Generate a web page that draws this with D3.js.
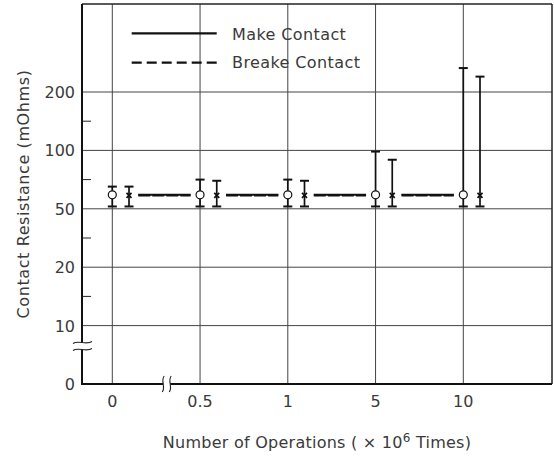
<!DOCTYPE html>
<html><head><meta charset="utf-8">
<script src="https://cdn.jsdelivr.net/npm/d3@7"></script>
<style>body{margin:0;background:#fff}svg{display:block}text{font-family:"DejaVu Sans",sans-serif;fill:#3a3a3a}</style>
</head><body>
<svg id="c" width="554" height="457"></svg>
<script>
const categories = ["0","0.5","1","5","10"];
const makeMean = [62,62,62,62,62];
const makeMin  = [52,52,52,52,52];
const makeMax  = [69,75,75,99,323];
const breakMean = [61.5,61.5,61.5,61.5,61.5];
const breakMin  = [52,52,52,52,52];
const breakMax  = [69,74,74,92,279];
const yTicks = [0,10,20,50,100,200];
const yMinor = [15,35,75,150];
const legendLabels = ["Make Contact","Breake Contact"];

const svg = d3.select("#c");
const L=82, R=552, T=4, B=384;
const FS=16;
const x = d3.scalePoint().domain(categories).range([112.3,463.3]);
const y = d3.scaleLinear().domain([0,10,20,50,100,200,500]).range([384,325.6,267.2,208.8,150.4,92,33.6]);

// grid
const g = svg.append("g");
g.selectAll(".vg").data(categories).join("line")
  .attr("x1",d=>x(d)).attr("x2",d=>x(d)).attr("y1",T).attr("y2",B)
  .attr("stroke","#444").attr("stroke-width",1);
g.selectAll(".hg").data(yTicks.filter(d=>d>0)).join("line")
  .attr("x1",L).attr("x2",R).attr("y1",d=>y(d)).attr("y2",d=>y(d))
  .attr("stroke","#444").attr("stroke-width",1);
// frame
g.append("line").attr("x1",L).attr("x2",R).attr("y1",T).attr("y2",T).attr("stroke","#222").attr("stroke-width",1.5);
g.append("line").attr("x1",R).attr("x2",R).attr("y1",T).attr("y2",B).attr("stroke","#222").attr("stroke-width",1.5);
// minor ticks
g.selectAll(".mt").data(yMinor).join("line")
  .attr("x1",L).attr("x2",L+9).attr("y1",d=>y(d)).attr("y2",d=>y(d))
  .attr("stroke","#222").attr("stroke-width",1);
// axes
g.append("line").attr("x1",L).attr("x2",L).attr("y1",T).attr("y2",B+1).attr("stroke","#111").attr("stroke-width",2);
g.append("line").attr("x1",L-1).attr("x2",R).attr("y1",B).attr("y2",B).attr("stroke","#111").attr("stroke-width",2);

// y axis break
const yb = y(6.5);
g.append("rect").attr("x",L-3).attr("y",yb-3.5).attr("width",6).attr("height",7).attr("fill","#fff");
[-3.5,3.5].forEach(o=>{
  g.append("path").attr("d",`M${L-9},${yb+o+1} C${L-4},${yb+o-3} ${L+4},${yb+o+3} ${L+10},${yb+o-1}`)
   .attr("fill","none").attr("stroke","#222").attr("stroke-width",1.1);
});
// x axis break
const xb = x("0") + (x("0.5")-x("0"))*0.62;
g.append("rect").attr("x",xb-3.5).attr("y",B-3).attr("width",7).attr("height",6).attr("fill","#fff");
[-3.5,3.5].forEach(o=>{
  g.append("path").attr("d",`M${xb+o+1},${B-8} C${xb+o-3},${B-3} ${xb+o+3},${B+3} ${xb+o-1},${B+8}`)
   .attr("fill","none").attr("stroke","#222").attr("stroke-width",1.1);
});

// tick labels
svg.selectAll(".yl").data(yTicks).join("text")
  .attr("x",75).attr("y",d=>y(d)+6).attr("text-anchor","end").attr("font-size",FS).text(d=>d);
svg.selectAll(".xl").data(categories).join("text")
  .attr("x",d=>x(d)).attr("y",406.5).attr("text-anchor","middle").attr("font-size",FS).text(d=>d);

// axis titles
svg.append("text").attr("transform","translate(29,194) rotate(-90)").attr("text-anchor","middle")
  .attr("font-size",FS).attr("letter-spacing",0.6).text("Contact Resistance (mOhms)");
const xt = svg.append("text").attr("x",317).attr("y",447.5).attr("text-anchor","middle").attr("font-size",FS).attr("letter-spacing",0.25);
xt.append("tspan").text("Number of Operations ( \u00d7 10");
xt.append("tspan").attr("font-size",12).attr("dy",-6).text("6");
xt.append("tspan").attr("dy",6).text(" Times)");

// connecting segments
const segs = categories.slice(0,-1).map((c,i)=>({x1:x(c)+26,x2:x(categories[i+1])-9.5,m:makeMean[i],b:breakMean[i]}));
svg.selectAll(".sm").data(segs).join("line")
  .attr("x1",d=>d.x1).attr("x2",d=>d.x2).attr("y1",d=>y(d.m)).attr("y2",d=>y(d.m))
  .attr("stroke","#111").attr("stroke-width",2);
svg.selectAll(".sb").data(segs).join("line")
  .attr("x1",d=>d.x1).attr("x2",d=>d.x2).attr("y1",d=>y(d.b)).attr("y2",d=>y(d.b))
  .attr("stroke","#111").attr("stroke-width",2.5).attr("stroke-dasharray","12,2");

// error bars
function errbars(mean,min,max,off,cls){
  const d = categories.map((c,i)=>({cx:x(c)+off,mean:mean[i],min:min[i],max:max[i]}));
  const eg = svg.append("g");
  eg.selectAll("."+cls+"v").data(d).join("line")
    .attr("x1",d=>d.cx).attr("x2",d=>d.cx).attr("y1",d=>y(d.min)).attr("y2",d=>y(d.max))
    .attr("stroke","#111").attr("stroke-width",1.7);
  ["min","max"].forEach(k=>{
    eg.selectAll("."+cls+k).data(d).join("line")
      .attr("x1",d=>d.cx-4.5).attr("x2",d=>d.cx+4.5).attr("y1",d=>y(d[k])).attr("y2",d=>y(d[k]))
      .attr("stroke","#111").attr("stroke-width",2);
  });
  return {eg,d};
}
const mk = errbars(makeMean,makeMin,makeMax,0,"m");
mk.eg.selectAll("circle").data(mk.d).join("circle")
  .attr("cx",d=>d.cx).attr("cy",d=>y(d.mean)).attr("r",4)
  .attr("fill","#fff").attr("stroke","#111").attr("stroke-width",1.2);
const bk = errbars(breakMean,breakMin,breakMax,16.7,"b");
bk.eg.selectAll("path").data(bk.d).join("path")
  .attr("d",d=>{const cx=d.cx, cy=y(d.mean); return `M${cx-2.5},${cy-2.5}L${cx+2.5},${cy+2.5}M${cx-2.5},${cy+2.5}L${cx+2.5},${cy-2.5}`;})
  .attr("stroke","#111").attr("stroke-width",1.7);

// legend
const lg = svg.append("g");
lg.selectAll("line").data(legendLabels).join("line")
  .attr("x1",131.7).attr("x2",216.7).attr("y1",(d,i)=>33.3+i*29.4).attr("y2",(d,i)=>33.3+i*29.4)
  .attr("stroke","#111").attr("stroke-width",2.2).attr("stroke-dasharray",(d,i)=>i?"10,5":null);
lg.selectAll("text").data(legendLabels).join("text")
  .attr("x",232).attr("y",(d,i)=>39.5+i*28.4).attr("font-size",FS).attr("letter-spacing",0.4).text(d=>d);
</script>
</body></html>
